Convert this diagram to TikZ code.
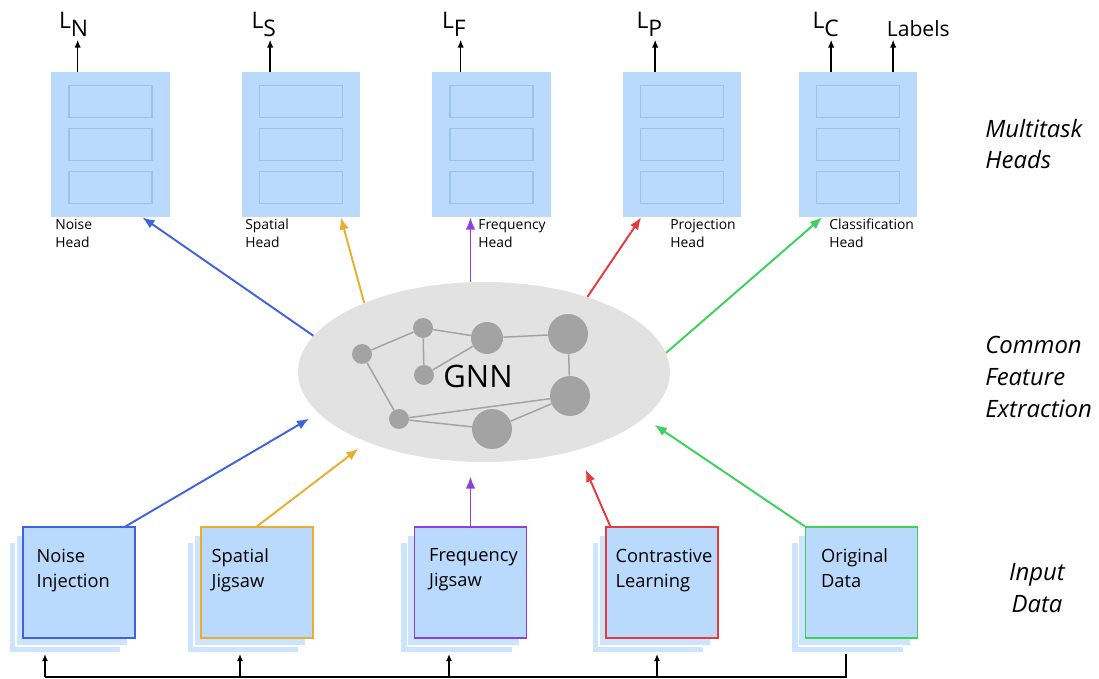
\documentclass[tikz,border=0pt]{standalone}
\usepackage{fontspec}
\setmainfont{Open Sans}
\usetikzlibrary{arrows.meta, positioning, shapes.geometric, calc, shadows}
\definecolor{cboxfill}{HTML}{B9DAFD}
\definecolor{clayer}{HTML}{CCE4FD}
\definecolor{cslot}{HTML}{9DC2EA}
\definecolor{cblue}{HTML}{3F63DC}
\definecolor{corange}{HTML}{E9AE30}
\definecolor{cpurple}{HTML}{8E3FDD}
\definecolor{cred}{HTML}{E53B3B}
\definecolor{cgreen}{HTML}{3DD05A}
\definecolor{cgnn}{HTML}{E2E2E2}
\definecolor{cdot}{HTML}{A3A3A3}
\tikzset{
  head/.style={fill=cboxfill, minimum width=2.38cm, minimum height=2.9cm, inner sep=0pt,
    path picture={
      \draw[cslot, line width=0.7pt] ([shift={(-0.83cm,0.54cm)}]path picture bounding box.center) rectangle ++(1.66cm,0.64cm);
      \draw[cslot, line width=0.7pt] ([shift={(-0.83cm,-0.32cm)}]path picture bounding box.center) rectangle ++(1.66cm,0.64cm);
      \draw[cslot, line width=0.7pt] ([shift={(-0.83cm,-1.18cm)}]path picture bounding box.center) rectangle ++(1.66cm,0.64cm);
    }},
  input/.style={draw=#1, line width=0.8pt, fill=cboxfill, minimum width=2.24cm, minimum height=2.22cm, inner sep=0pt,
    general shadow={shadow xshift=-0.28cm, shadow yshift=-0.30cm, fill=clayer, draw=white, line width=0.6pt},
    general shadow={shadow xshift=-0.14cm, shadow yshift=-0.16cm, fill=clayer, draw=white, line width=0.6pt}},
  boxtext/.style={anchor=north west, inner sep=0pt, align=left, font=\fontsize{10.4}{14.2}\selectfont},
  headtext/.style={anchor=north west, inner sep=0pt, align=left, font=\fontsize{7.9}{10.2}\selectfont},
  sidetext/.style={inner sep=0pt, font=\fontsize{13.6}{18}\selectfont\itshape},
  loss/.style={inner sep=0pt, anchor=south west, font=\fontsize{13}{15}\selectfont},
  lossarrow/.style={-{Latex[length=4.5pt,width=3.6pt]}, line width=0.8pt},
  flow/.style={-{Latex[length=7pt,width=5.5pt]}, draw=#1, line width=1.1pt},
  feed/.style={-{Latex[length=4pt,width=3.4pt]}, line width=0.9pt},
  gdot/.style={circle, fill=cdot, inner sep=0pt, minimum size=#1},
  link/.style={draw=cdot, line width=0.85pt},
}

\begin{document}
\begin{tikzpicture}[x=0.02cm, y=-0.02cm]
  \useasboundingbox (0,0) rectangle (1099,679);

  % multitask heads
  \node[head] (nhead) at (110.5,144.5) {};
  \node[head] (shead) at (301,144.5) {};
  \node[head] (fhead) at (491.5,144.5) {};
  \node[head] (phead) at (682,144.5) {};
  \node[head] (chead) at (858,144.5) {};
  \node[headtext] (nhead-lbl) at (55,219) {Noise\\Head};
  \node[headtext] (shead-lbl) at (245,219) {Spatial\\Head};
  \node[headtext] (fhead-lbl) at (478,219) {Frequency\\Head};
  \node[headtext] (phead-lbl) at (670,219) {Projection\\Head};
  \node[headtext] (chead-lbl) at (829,219) {Classification\\Head};

  % losses
  \draw[lossarrow] ([shift={(27,0)}]nhead.north west) -- ++(0,-32) node[loss, xshift=-11pt, yshift=1.5pt] (loss-n) {L\lower4.5pt\hbox{N}};
  \draw[lossarrow] ([shift={(29,0)}]shead.north west) -- ++(0,-32) node[loss, xshift=-11pt, yshift=1.5pt] (loss-s) {L\lower4.5pt\hbox{S}};
  \draw[lossarrow] ([shift={(29,0)}]fhead.north west) -- ++(0,-32) node[loss, xshift=-11pt, yshift=1.5pt] (loss-f) {L\lower4.5pt\hbox{F}};
  \draw[lossarrow] ([shift={(33,0)}]phead.north west) -- ++(0,-32) node[loss, xshift=-11pt, yshift=1.5pt] (loss-p) {L\lower4.5pt\hbox{P}};
  \draw[lossarrow] ([shift={(33,0)}]chead.north west) -- ++(0,-32) node[loss, xshift=-11pt, yshift=1.5pt] (loss-c) {L\lower4.5pt\hbox{C}};
  \draw[lossarrow] ([shift={(95,0)}]chead.north west) -- ++(0,-32) node[loss, font=\fontsize{12}{14}\selectfont, xshift=-4pt, yshift=1.5pt] (labels) {Labels};

  % shared GNN
  \node[ellipse, fill=cgnn, minimum width=7.44cm, minimum height=3.6cm] (gnn) at (484,372) {};
  \node[gdot=0.4cm] (g1) at (362,354) {};
  \node[gdot=0.4cm] (g2) at (423,328) {};
  \node[gdot=0.64cm] (g3) at (487,338) {};
  \node[gdot=0.8cm] (g4) at (568,334) {};
  \node[gdot=0.4cm] (g5) at (424,375) {};
  \node[gdot=0.8cm] (g6) at (570,396) {};
  \node[gdot=0.4cm] (g7) at (399,419) {};
  \node[gdot=0.8cm] (g8) at (492,429) {};
  \draw[link] (g1) -- (g2) -- (g3) -- (g4) -- (g6) -- (g7) -- (g1);
  \draw[link] (g2) -- (g5) -- (g3);
  \draw[link] (g7) -- (g8) -- (g6);
  \node[font=\fontsize{17.6}{20}\selectfont] (gnn-lbl) at (478,376) {GNN};

  % input data
  \node[input=cblue] (noise) at (79,582.5) {};
  \node[input=corange] (spatial) at (257,582.5) {};
  \node[input=cpurple] (freq) at (470.5,582.5) {};
  \node[input=cred] (contr) at (662,582.5) {};
  \node[input=cgreen] (orig) at (861.5,582.5) {};
  \node[boxtext] (noise-txt) at ([shift={(14,22)}]noise.north west) {Noise\\Injection};
  \node[boxtext] (spatial-txt) at ([shift={(11,22)}]spatial.north west) {Spatial\\Jigsaw};
  \node[boxtext] (freq-txt) at ([shift={(15,22)}]freq.north west) {Frequency\\Jigsaw};
  \node[boxtext] (contr-txt) at ([shift={(10,22)}]contr.north west) {Contrastive\\Learning};
  \node[boxtext] (orig-txt) at ([shift={(16,22)}]orig.north west) {Original\\Data};

  % inputs into the GNN
  \draw[flow=cblue, shorten >=6pt] ([shift={(-10,0)}]noise.north east) -- (gnn.194);
  \draw[flow=corange, shorten >=6pt] (spatial.north) -- (gnn.211);
  \draw[flow=cpurple, shorten >=8pt] (freq.north) -- (freq.north |- gnn.south);
  \draw[flow=cred, shorten >=12pt] ([shift={(5,0)}]contr.north west) -- (gnn.320);
  \draw[flow=cgreen, shorten >=7pt] (orig.north west) -- (gnn.344);

  % GNN into the heads
  \draw[flow=cblue] (gnn.168.5) -- ([shift={(-28,0)}]nhead.south east);
  \draw[flow=corange] (gnn.150) -- ([shift={(-20,0)}]shead.south east);
  \draw[flow=cpurple] (freq.north |- gnn.north) -- (freq.north |- fhead.south);
  \draw[flow=cred] (gnn.36) -- ([shift={(19,0)}]phead.south west);
  \draw[flow=cgreen] (gnn.6.4) -- ([shift={(24,0)}]chead.south west);

  % original data feeds the other inputs
  \coordinate (bus-l) at (45,677);
  \draw[line width=0.9pt] ([shift={(-15.5,15)}]orig.south) |- (bus-l);
  \draw[feed] (bus-l) -- ++(0,-23);
  \draw[feed] ([shift={(195,0)}]bus-l) -- ++(0,-23);
  \draw[feed] ([shift={(404,0)}]bus-l) -- ++(0,-23);
  \draw[feed] ([shift={(612,0)}]bus-l) -- ++(0,-23);

  % level names
  \node[sidetext, anchor=west, align=left] (lvl-heads) at (985,144) {Multitask\\Heads};
  \node[sidetext, anchor=west, align=left] (lvl-gnn) at (985,377) {Common\\Feature\\Extraction};
  \node[sidetext, align=center] (lvl-input) at (1037,588) {Input\\Data};
\end{tikzpicture}
\end{document}
